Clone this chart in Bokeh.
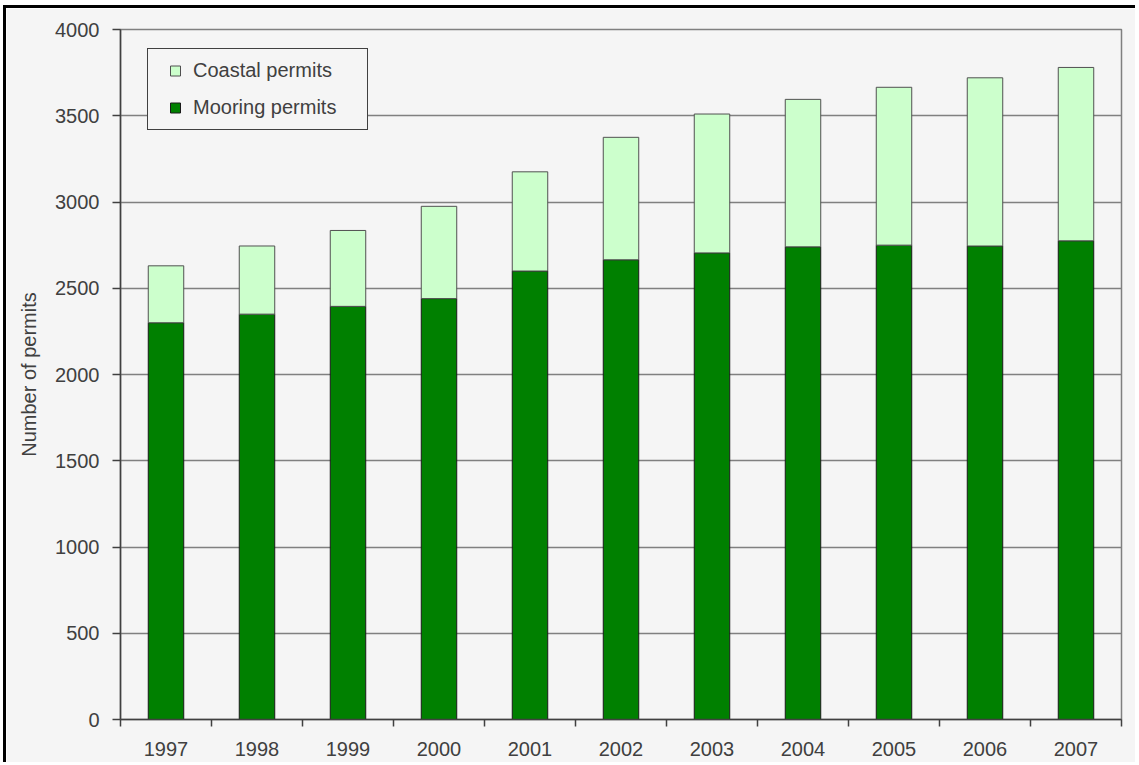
from bokeh.plotting import figure
from bokeh.models import (ColumnDataSource, Range1d, FixedTicker, Legend, LegendItem)
from bokeh.embed import file_html
from bokeh.resources import INLINE

# ---- data ----
years = ["1997", "1998", "1999", "2000", "2001", "2002", "2003", "2004", "2005", "2006", "2007"]
mooring = [2300, 2350, 2395, 2440, 2600, 2665, 2705, 2740, 2750, 2745, 2775]
coastal = [330, 395, 440, 535, 575, 710, 805, 855, 915, 975, 1005]
y_ticks = [0, 500, 1000, 1500, 2000, 2500, 3000, 3500, 4000]

xs = list(range(len(years)))
total = [m + c for m, c in zip(mooring, coastal)]
src = ColumnDataSource(dict(x=xs, year=years, mooring=mooring, coastal=coastal, total=total))

FONT = "Liberation Sans"
TXT = "#404040"
BG = "#f5f5f5"
DARK = "#008000"
LIGHT = "#ccffcc"
FS = "20px"

p = figure(width=1132, height=757,
           x_range=Range1d(-0.5, len(years) - 0.5), y_range=Range1d(0, 4000),
           output_backend="svg", toolbar_location=None,
           min_border_left=114, min_border_right=17, min_border_top=21, min_border_bottom=46)
p.styles = {"border-left": "3px solid #000000", "border-top": "3px solid #000000"}
p.margin = (5, 0, 0, 3)

p.background_fill_color = BG
p.border_fill_color = BG
p.outline_line_color = "#808080"
p.outline_line_width = 1.5

p.vbar(x="x", top="mooring", bottom=0, width=0.39, source=src,
       fill_color=DARK, line_color="#1a1a1a", line_width=1)
p.vbar(x="x", top="total", bottom="mooring", width=0.39, source=src,
       fill_color=LIGHT, line_color="#505050", line_width=1)

# grid
p.xgrid.visible = False
p.ygrid.grid_line_color = "#808080"
p.ygrid.grid_line_width = 1.5

# y axis
p.yaxis.ticker = FixedTicker(ticks=y_ticks)
p.yaxis.axis_label = "Number of permits"
p.yaxis.axis_label_text_font = FONT
p.yaxis.axis_label_text_font_size = FS
p.yaxis.axis_label_text_font_style = "normal"
p.yaxis.axis_label_text_color = TXT
p.yaxis.axis_label_standoff = 12
p.yaxis.major_label_text_font = FONT
p.yaxis.major_label_text_font_size = FS
p.yaxis.major_label_text_color = TXT
p.yaxis.major_label_standoff = 13
p.yaxis.major_tick_out = 8
p.yaxis.major_tick_in = 0
p.yaxis.minor_tick_line_color = None
p.yaxis.axis_line_color = "#404040"
p.yaxis.axis_line_width = 1.5
p.yaxis.major_tick_line_color = "#404040"
p.yaxis.major_tick_line_width = 1.5

# x axis: labels at category centres, ticks between categories
p.xaxis.ticker = FixedTicker(ticks=xs, minor_ticks=[i - 0.5 for i in range(len(years) + 1)])
p.xaxis.major_label_overrides = {i: y for i, y in zip(xs, years)}
p.xaxis.major_label_text_font = FONT
p.xaxis.major_label_text_font_size = FS
p.xaxis.major_label_text_color = TXT
p.xaxis.major_label_standoff = 15
p.xaxis.major_tick_out = 0
p.xaxis.major_tick_in = 0
p.xaxis.minor_tick_out = 7
p.xaxis.minor_tick_in = 0
p.xaxis.minor_tick_line_color = "#404040"
p.xaxis.minor_tick_line_width = 1.5
p.xaxis.axis_line_color = "#404040"
p.xaxis.axis_line_width = 1.5

# legend (proxy markers, hidden in the plot, shown in the legend)
r_c = p.scatter(x="x", y="total", source=src, marker="square", size=10,
                fill_color=LIGHT, line_color="#505050", visible=False)
r_m = p.scatter(x="x", y="mooring", source=src, marker="square", size=10,
                fill_color=DARK, line_color="#1a1a1a", visible=False)
legend = Legend(items=[LegendItem(label="Coastal permits", renderers=[r_c], index=0),
                       LegendItem(label="Mooring permits", renderers=[r_m], index=0)],
                location=(27, 589))
legend.padding = 9
legend.spacing = 12
legend.glyph_width = 36
legend.glyph_height = 25
legend.label_standoff = -1
legend.label_width = 165
legend.label_text_font = FONT
legend.label_text_font_size = FS
legend.label_text_color = TXT
legend.background_fill_color = BG
legend.background_fill_alpha = 1
legend.border_line_color = "#404040"
legend.border_line_alpha = 1
legend.border_line_width = 1.5
legend.inactive_fill_alpha = 0
legend.click_policy = "none"
p.add_layout(legend, "center")

open("out.html", "w").write(file_html(p, INLINE))
